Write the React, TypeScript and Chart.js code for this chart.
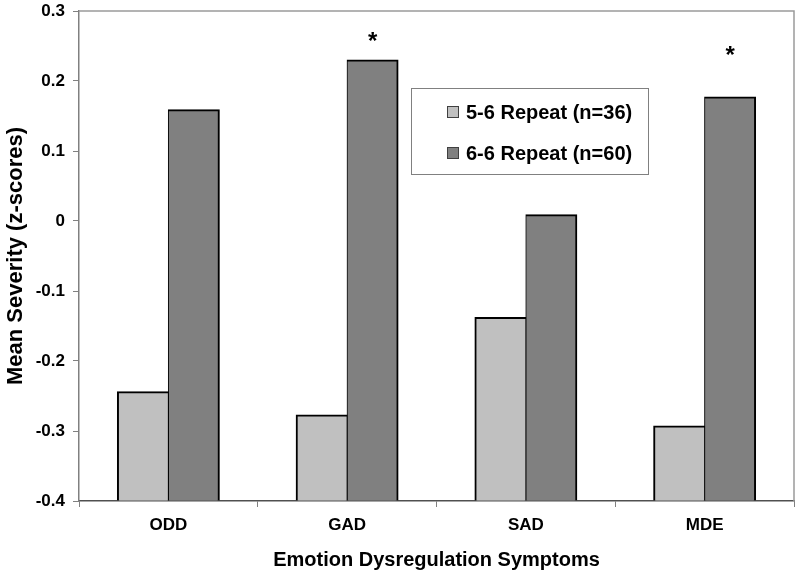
import React, { useEffect, useRef } from "react";
import { Chart, registerables } from "chart.js";
Chart.register(...registerables);

const categories = ["ODD", "GAD", "SAD", "MDE"];
const series1Label = "5-6 Repeat (n=36)";
const series2Label = "6-6 Repeat (n=60)";
const series1Values = [-0.244, -0.277, -0.138, -0.293];
const series2Values = [0.159, 0.23, 0.009, 0.177];
const significanceMarks: (number | null)[] = [null, 0.265, null, 0.245];
const yTickValues = [-0.4, -0.3, -0.2, -0.1, 0, 0.1, 0.2, 0.3];
const yTickLabels = ["-0.4", "-0.3", "-0.2", "-0.1", "0", "0.1", "0.2", "0.3"];
const yAxisTitle = "Mean Severity (z-scores)";
const xAxisTitle = "Emotion Dysregulation Symptoms";
const yMin = -0.4;
const yMax = 0.3;

const FONT = "'Liberation Sans', Arial, sans-serif";
const LIGHT = "#c0c0c0";
const DARK = "#808080";

const framePlugin = {
  id: "frame",
  beforeDatasetsDraw(chart: any) {
    const { ctx, chartArea } = chart;
    ctx.save();
    ctx.strokeStyle = "#9a9a9a";
    ctx.lineWidth = 1.5;
    ctx.beginPath();
    ctx.moveTo(chartArea.left, chartArea.top);
    ctx.lineTo(chartArea.right, chartArea.top);
    ctx.lineTo(chartArea.right, chartArea.bottom);
    ctx.stroke();
    ctx.restore();
  },
};

const markerPlugin = {
  id: "markers",
  afterDatasetsDraw(chart: any) {
    const { ctx } = chart;
    const meta = chart.getDatasetMeta(1);
    const yScale = chart.scales.y;
    ctx.save();
    const size = 24;
    ctx.font = `bold ${size}px ${FONT}`;
    ctx.fillStyle = "#000";
    ctx.textAlign = "center";
    ctx.textBaseline = "alphabetic";
    significanceMarks.forEach((v, i) => {
      if (v === null) return;
      const x = meta.data[i].x;
      const y = yScale.getPixelForValue(v) + size * 0.57;
      ctx.fillText("*", x, y);
    });
    ctx.restore();
  },
};

const legendPlugin = {
  id: "boxLegend",
  afterDatasetsDraw(chart: any) {
    const { ctx } = chart;
    ctx.save();
    const bx = 411, by = 88, bw = 237, bh = 86;
    ctx.fillStyle = "#fff";
    ctx.fillRect(bx, by, bw, bh);
    ctx.strokeStyle = "#808080";
    ctx.lineWidth = 1;
    ctx.strokeRect(bx + 0.5, by + 0.5, bw, bh);
    const items = [
      { label: series1Label, color: LIGHT, y: 112 },
      { label: series2Label, color: DARK, y: 153 },
    ];
    ctx.font = `bold 20px ${FONT}`;
    ctx.textBaseline = "middle";
    ctx.textAlign = "left";
    items.forEach((it) => {
      ctx.fillStyle = it.color;
      ctx.fillRect(447, it.y - 6, 12, 12);
      ctx.strokeStyle = "#404040";
      ctx.strokeRect(447.5, it.y - 5.5, 11, 11);
      ctx.fillStyle = "#000";
      ctx.fillText(it.label, 466, it.y + 1);
    });
    ctx.restore();
  },
};

export default function App() {
  const ref = useRef<HTMLCanvasElement | null>(null);
  useEffect(() => {
    if (!ref.current) return;
    const chart = new Chart(ref.current, {
      type: "bar",
      data: {
        labels: categories,
        datasets: [
          {
            label: series1Label,
            data: series1Values,
            backgroundColor: LIGHT,
            borderColor: "#000",
            borderWidth: { left: 2, top: 2, right: 1, bottom: 0 },
            borderSkipped: false,
            inflateAmount: 0.5,
            base: yMin,
          } as any,
          {
            label: series2Label,
            data: series2Values,
            backgroundColor: DARK,
            borderColor: "#000",
            borderWidth: { left: 1, top: 2, right: 2, bottom: 0 },
            borderSkipped: false,
            inflateAmount: 0.5,
            base: yMin,
          } as any,
        ],
      },
      options: {
        animation: false,
        responsive: false,
        categoryPercentage: 0.57,
        barPercentage: 1.0,
        layout: { padding: { top: 11, right: 6, left: 0, bottom: 0 } },
        plugins: {
          legend: { display: false },
          tooltip: { enabled: false },
        },
        scales: {
          x: {
            afterFit: (s: any) => {
              s.height = 77;
              s.paddingLeft = 0;
              s.paddingRight = 0;
            },
            grid: {
              offset: true,
              drawOnChartArea: false,
              tickLength: 6,
              color: "#808080",
            },
            border: { color: "#505050", width: 1.5 },
            ticks: {
              color: "#000",
              font: { family: FONT, size: 17, weight: "bold" },
              padding: 8,
            },
            title: {
              display: true,
              text: xAxisTitle,
              color: "#000",
              font: { family: FONT, size: 20, weight: "bold" },
              padding: { top: 0, bottom: 6 },
            },
          },
          y: {
            min: yMin,
            max: yMax,
            afterFit: (s: any) => {
              s.width = 79;
              s.paddingTop = 0;
              s.paddingBottom = 0;
            },
            afterBuildTicks: (s: any) => {
              s.ticks = yTickValues.map((v) => ({ value: v }));
            },
            grid: {
              drawOnChartArea: false,
              tickLength: 6,
              color: "#808080",
            },
            border: { color: "#808080", width: 1.5 },
            ticks: {
              color: "#000",
              font: { family: FONT, size: 17, weight: "bold" },
              padding: 8,
              callback: (v: any) => {
                const idx = yTickValues.findIndex((t) => Math.abs(t - Number(v)) < 1e-9);
                return idx >= 0 ? yTickLabels[idx] : "";
              },
            },
            title: {
              display: true,
              text: yAxisTitle,
              color: "#000",
              font: { family: FONT, size: 22, weight: "bold" },
              padding: { top: 3, bottom: 0 },
            },
          },
        },
      },
      plugins: [framePlugin, markerPlugin, legendPlugin],
    });
    return () => chart.destroy();
  }, []);
  return (
    <div style={{ position: "absolute", left: 0, top: 0, width: 800, height: 578, background: "#fff" }}>
      <canvas ref={ref} width={800} height={578} />
    </div>
  );
}
